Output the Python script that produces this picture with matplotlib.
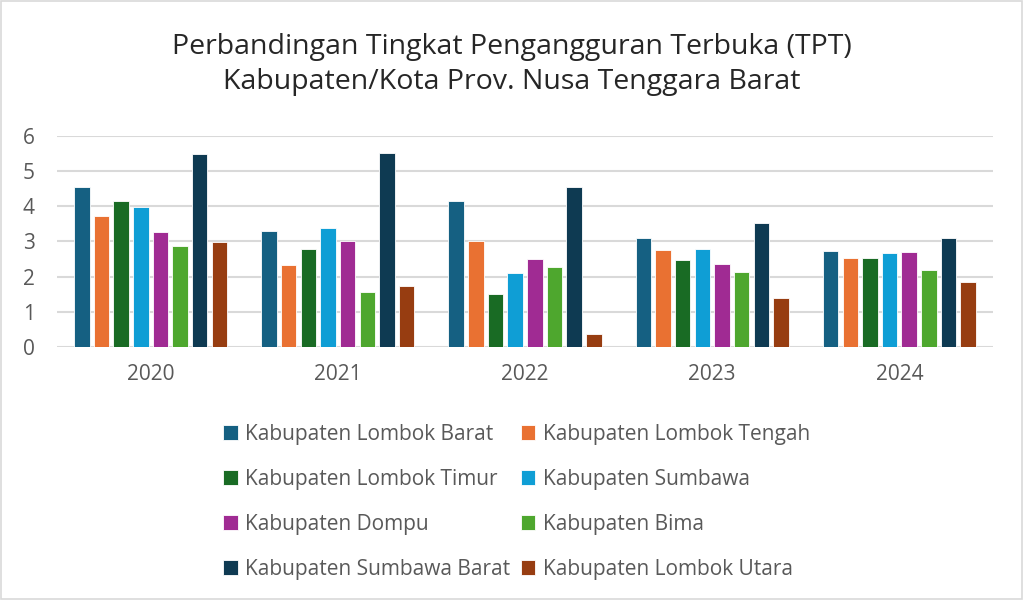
import matplotlib
matplotlib.use("Agg")
import matplotlib.pyplot as plt
import numpy as np
from matplotlib.patches import Rectangle

years = ["2020", "2021", "2022", "2023", "2024"]
series_names = [
    "Kabupaten Lombok Barat", "Kabupaten Lombok Tengah", "Kabupaten Lombok Timur",
    "Kabupaten Sumbawa", "Kabupaten Dompu", "Kabupaten Bima",
    "Kabupaten Sumbawa Barat", "Kabupaten Lombok Utara",
]
lombok_barat = [4.56, 3.30, 4.14, 3.10, 2.74]
lombok_tengah = [3.72, 2.32, 3.00, 2.77, 2.54]
lombok_timur = [4.15, 2.78, 1.50, 2.46, 2.52]
sumbawa = [3.99, 3.38, 2.10, 2.78, 2.67]
dompu = [3.26, 3.01, 2.49, 2.36, 2.70]
bima = [2.88, 1.57, 2.27, 2.14, 2.18]
sumbawa_barat = [5.49, 5.51, 4.54, 3.52, 3.09]
lombok_utara = [2.99, 1.74, 0.37, 1.39, 1.84]
values = [lombok_barat, lombok_tengah, lombok_timur, sumbawa, dompu, bima, sumbawa_barat, lombok_utara]
colors = ["#156082", "#E97132", "#196B24", "#0F9ED5", "#A02B93", "#4EA72E", "#0E3A52", "#973D11"]

plt.rcParams['font.family'] = ['Open Sans', 'DejaVu Sans']
fig = plt.figure(figsize=(10.23, 6.0), dpi=100)
ax = fig.add_axes([0.0557, 0.4217, 0.915, 0.3517])

x = np.arange(len(years))
slot = 0.105
bw = 0.083
handles = []
for i, (vals, c) in enumerate(zip(values, colors)):
    off = (i - 3.5) * slot
    b = ax.bar(x + off, vals, width=bw, color=c, edgecolor="white", linewidth=0.6,
               label=series_names[i], zorder=3)
    handles.append(b)

ax.set_xlim(-0.5, 4.5)
ax.set_ylim(0, 6)
ax.set_yticks(range(0, 7))
ax.set_xticks(x)
ax.set_xticklabels(years)
ax.grid(axis="y", color="#D9D9D9", linewidth=1.5, zorder=0)
for s in ax.spines.values():
    s.set_visible(False)
ax.tick_params(axis="both", length=0, colors="#595959", labelsize=15)
ax.tick_params(axis="x", pad=12)
ax.tick_params(axis="y", pad=16)

fig.text(0.5, 0.893, "Perbandingan Tingkat Pengangguran Terbuka (TPT)\nKabupaten/Kota Prov. Nusa Tenggara Barat",
         ha="center", va="center", fontsize=20.5, color="#262626", linespacing=1.32)

order = [0, 2, 4, 6, 1, 3, 5, 7]
leg = fig.legend([handles[i] for i in order], [series_names[i] for i in order],
                 ncol=2, loc="upper center", bbox_to_anchor=(0.505, 0.325), frameon=False,
                 fontsize=15, handlelength=0.7, handleheight=0.7, handletextpad=0.35,
                 columnspacing=0.5, labelspacing=1.15, labelcolor="#595959")

fig.patches.append(Rectangle((0.001, 0.001), 0.998, 0.998, transform=fig.transFigure,
                             fill=False, edgecolor="#D9D9D9", linewidth=1.2))
fig.savefig("out.png", dpi=100, facecolor="white")
